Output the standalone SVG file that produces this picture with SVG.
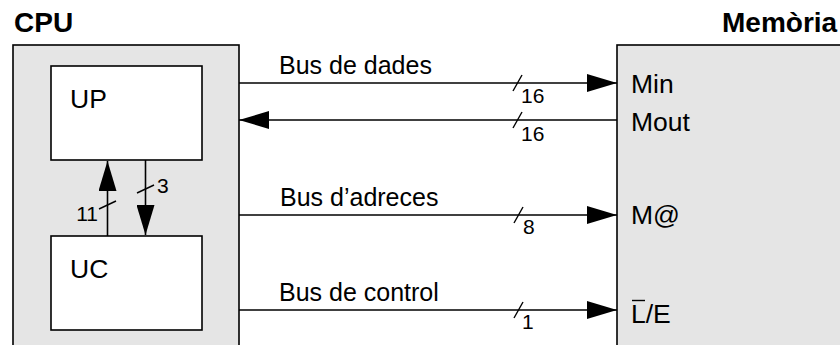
<svg xmlns="http://www.w3.org/2000/svg" width="840" height="345" viewBox="0 0 840 345">
<style>
  .box { fill: #e5e5e5; stroke: #000; stroke-width: 1.6; }
  .inner { fill: #fff; stroke: #000; stroke-width: 1.6; }
  .ln { stroke: #000; stroke-width: 1.6; fill: none; }
  .tk { stroke: #000; stroke-width: 1.4; fill: none; }
  .t { font-family: "Liberation Sans", Arial, sans-serif; font-size: 26.5px; fill: #000; }
  .tl { font-family: "Liberation Sans", Arial, sans-serif; font-size: 25px; fill: #000; }
  .tb { font-family: "Liberation Sans", Arial, sans-serif; font-size: 28px; font-weight: bold; fill: #000; }
  .n { font-family: "Liberation Sans", Arial, sans-serif; font-size: 21px; fill: #000; }
</style>
<defs>
  <marker id="ah" markerUnits="userSpaceOnUse" markerWidth="30" markerHeight="18" refX="30" refY="9" orient="auto">
    <path d="M0,0 L30,9 L0,18 z" fill="#000"/>
  </marker>
</defs>
<rect width="840" height="345" fill="#fff"/>

<g id="cpu">
  <rect class="box" x="13" y="45" width="226" height="320"/>
  <text class="tb" x="14" y="32">CPU</text>
</g>
<g id="memoria">
  <rect class="box" x="617" y="45" width="240" height="320"/>
  <text class="tb" x="722" y="32">Memòria</text>
  <text class="t" x="631" y="93">Min</text>
  <text class="t" x="631" y="131">Mout</text>
  <text class="t" x="631" y="224">M@</text>
  <text class="t" x="631" y="323">L/E</text>
  <line class="tk" x1="632" y1="300.5" x2="645" y2="300.5"/>
</g>
<g id="up">
  <rect class="inner" x="51" y="66" width="151" height="94"/>
  <text class="t" x="70" y="108">UP</text>
</g>
<g id="uc">
  <rect class="inner" x="51" y="236" width="151" height="94"/>
  <text class="t" x="70" y="278">UC</text>
</g>

<g id="connectors">
  <line class="ln" x1="239" y1="83" x2="617" y2="83" marker-end="url(#ah)"/>
  <line class="ln" x1="617" y1="120" x2="239" y2="120" marker-end="url(#ah)"/>
  <line class="ln" x1="239" y1="215" x2="617" y2="215" marker-end="url(#ah)"/>
  <line class="ln" x1="239" y1="310" x2="617" y2="310" marker-end="url(#ah)"/>
  <line class="ln" x1="107.5" y1="236" x2="107.5" y2="161" marker-end="url(#ah)"/>
  <line class="ln" x1="145.5" y1="160" x2="145.5" y2="235" marker-end="url(#ah)"/>

  <line class="tk" x1="513" y1="91" x2="522" y2="75"/>
  <line class="tk" x1="513" y1="128" x2="522" y2="112"/>
  <line class="tk" x1="514" y1="223" x2="523" y2="207"/>
  <line class="tk" x1="514" y1="318" x2="523" y2="302"/>
  <line class="tk" x1="99" y1="209" x2="116" y2="201"/>
  <line class="tk" x1="137" y1="193" x2="154" y2="185"/>

  <text class="tl" x="279" y="74">Bus de dades</text>
  <text class="tl" x="280" y="206">Bus d’adreces</text>
  <text class="tl" x="279" y="301">Bus de control</text>

  <text class="n" x="521" y="103">16</text>
  <text class="n" x="521" y="141">16</text>
  <text class="n" x="523" y="234">8</text>
  <text class="n" x="522" y="329">1</text>
  <text class="n" x="98" y="221" text-anchor="end">11</text>
  <text class="n" x="157" y="193">3</text>
</g>
</svg>
